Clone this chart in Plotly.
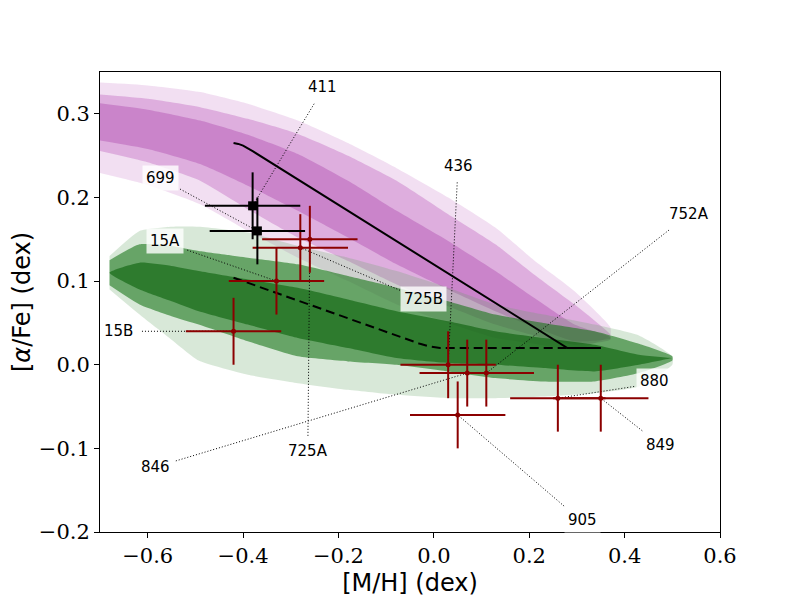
import plotly.graph_objects as go

# ---------------- data ----------------
# samples with uncertainties
red_names = ["725A", "725B", "15A", "15B", "436", "846", "752A", "905", "880", "849"]
red_mh = [-0.26, -0.28, -0.33, -0.42, 0.03, 0.07, 0.11, 0.05, 0.26, 0.35]
red_afe = [0.15, 0.14, 0.10, 0.04, 0.00, -0.01, -0.01, -0.06, -0.04, -0.04]
red_mh_err = [0.10, 0.10, 0.10, 0.10, 0.10, 0.10, 0.10, 0.10, 0.10, 0.10]
red_afe_err = [0.04, 0.04, 0.04, 0.04, 0.04, 0.04, 0.04, 0.04, 0.04, 0.04]

black_names = ["411", "699"]
black_mh = [-0.38, -0.37]
black_afe = [0.19, 0.16]
black_mh_err = [0.10, 0.10]
black_afe_err = [0.04, 0.04]

# model tracks
solid_mh = [-0.42, -0.41, -0.40, -0.39, -0.379, 0.28, 0.35]
solid_afe = [0.265, 0.264, 0.262, 0.259, 0.255, 0.02, 0.02]
dashed_mh = [-0.42, -0.113, -0.06, -0.029, -0.01, 0.013, 0.35]
dashed_afe = [0.104, 0.042, 0.031, 0.025, 0.022, 0.020, 0.020]

# magenta population envelopes
mag_x = [-0.72, -0.60, -0.49, -0.39, -0.285, -0.18, -0.078, 0.03, 0.129, 0.21, 0.295, 0.37]
mag_sparse_hi = [0.338, 0.334, 0.326, 0.312, 0.292, 0.265, 0.235, 0.200, 0.164, 0.125, 0.088, 0.045]
mag_sparse_lo = [0.232, 0.215, 0.192, 0.160, 0.128, 0.100, 0.072, 0.050, 0.032, 0.025, 0.018, 0.035]
mag_dense_hi = [0.324, 0.318, 0.308, 0.294, 0.276, 0.250, 0.220, 0.180, 0.144, 0.108, 0.072, 0.036]
mag_dense_lo = [0.258, 0.242, 0.220, 0.186, 0.152, 0.124, 0.096, 0.070, 0.048, 0.035, 0.024, 0.030]
mag_core_hi = [0.314, 0.305, 0.292, 0.275, 0.252, 0.220, 0.184, 0.148, 0.112, 0.080, 0.048, 0.033]
mag_core_lo = [0.270, 0.258, 0.240, 0.214, 0.184, 0.152, 0.120, 0.090, 0.064, 0.045, 0.028, 0.031]

# green population envelopes
grn_x = [-0.68, -0.617, -0.55, -0.493, -0.39, -0.285, -0.18, -0.078, 0.03, 0.129, 0.23, 0.337, 0.43, 0.50]
grn_sparse_hi = [0.130, 0.160, 0.165, 0.165, 0.158, 0.142, 0.128, 0.112, 0.092, 0.072, 0.060, 0.048, 0.035, 0.010]
grn_sparse_lo = [0.090, 0.060, 0.030, 0.005, -0.012, -0.022, -0.030, -0.036, -0.040, -0.040, -0.038, -0.034, -0.026, 0.000]
grn_dense_hi = [0.125, 0.144, 0.142, 0.136, 0.128, 0.120, 0.106, 0.092, 0.076, 0.060, 0.050, 0.040, 0.025, 0.010]
grn_dense_lo = [0.095, 0.072, 0.058, 0.048, 0.028, 0.010, 0.004, 0.000, -0.008, -0.016, -0.020, -0.020, -0.010, 0.005]
grn_core_hi = [0.110, 0.122, 0.118, 0.112, 0.102, 0.092, 0.078, 0.064, 0.052, 0.040, 0.032, 0.024, 0.012, 0.008]
grn_core_lo = [0.110, 0.090, 0.076, 0.064, 0.048, 0.032, 0.020, 0.008, 0.002, 0.000, -0.004, -0.008, 0.000, 0.008]

x_ticks = [-0.6, -0.4, -0.2, 0.0, 0.2, 0.4, 0.6]
y_ticks = [-0.2, -0.1, 0.0, 0.1, 0.2, 0.3]

# ---------------- label layout (text centre, connector start) ----------------
label_pos = {
    "411": (-0.234, 0.332, -0.251, 0.312),
    "699": (-0.574, 0.223, -0.532, 0.210),
    "15A": (-0.563, 0.148, -0.517, 0.137),
    "15B": (-0.662, 0.040, -0.612, 0.040),
    "725A": (-0.264, -0.103, -0.264, -0.085),
    "725B": (-0.021, 0.078, -0.071, 0.089),
    "436": (0.051, 0.238, 0.049, 0.218),
    "752A": (0.535, 0.180, 0.493, 0.161),
    "846": (-0.584, -0.122, -0.541, -0.115),
    "880": (0.462, -0.019, 0.420, -0.026),
    "849": (0.475, -0.096, 0.437, -0.079),
    "905": (0.311, -0.186, 0.273, -0.169),
}

fig = go.Figure()


def band(xs, hi, lo, color):
    fig.add_trace(go.Scatter(
        x=list(xs) + list(xs)[::-1], y=list(hi) + list(lo)[::-1],
        fill="toself", fillcolor=color, mode="lines",
        line=dict(width=0, shape="spline", smoothing=0.5),
        hoverinfo="skip", showlegend=False))


band(mag_x, mag_sparse_hi, mag_sparse_lo, "rgba(205,130,205,0.26)")
band(mag_x, mag_dense_hi, mag_dense_lo, "rgba(185,90,185,0.36)")
band(mag_x, mag_core_hi, mag_core_lo, "rgba(160,50,160,0.33)")
band(grn_x, grn_sparse_hi, grn_sparse_lo, "rgba(100,165,100,0.25)")
band(grn_x, grn_dense_hi, grn_dense_lo, "rgba(20,115,20,0.58)")
band(grn_x, grn_core_hi, grn_core_lo, "rgba(0,90,0,0.55)")

# model tracks
fig.add_trace(go.Scatter(x=solid_mh, y=solid_afe, mode="lines",
                         line=dict(color="black", width=2),
                         showlegend=False, hoverinfo="skip"))
fig.add_trace(go.Scatter(x=dashed_mh, y=dashed_afe, mode="lines",
                         line=dict(color="black", width=2, dash="9px,5px"),
                         showlegend=False, hoverinfo="skip"))

# connectors
all_names = red_names + black_names
all_mh = red_mh + black_mh
all_afe = red_afe + black_afe
for name, px, py in zip(all_names, all_mh, all_afe):
    tx, ty, sx, sy = label_pos[name]
    fig.add_trace(go.Scatter(x=[sx, px], y=[sy, py], mode="lines",
                             line=dict(color="black", width=1, dash="1px,2px"),
                             showlegend=False, hoverinfo="skip"))

# measurements
fig.add_trace(go.Scatter(
    x=red_mh, y=red_afe, mode="markers",
    marker=dict(color="#8b0000", size=5),
    error_x=dict(type="data", array=red_mh_err, color="#8b0000", thickness=2, width=0),
    error_y=dict(type="data", array=red_afe_err, color="#8b0000", thickness=2, width=0),
    showlegend=False))
fig.add_trace(go.Scatter(
    x=black_mh, y=black_afe, mode="markers",
    marker=dict(color="black", size=9, symbol="square"),
    error_x=dict(type="data", array=black_mh_err, color="black", thickness=2, width=0),
    error_y=dict(type="data", array=black_afe_err, color="black", thickness=2, width=0),
    showlegend=False))

for name in all_names:
    tx, ty, sx, sy = label_pos[name]
    fig.add_annotation(x=tx, y=ty, text=name, showarrow=False,
                       xanchor="center", yanchor="middle",
                       font=dict(family="DejaVu Sans", size=15, color="black"),
                       bgcolor="rgba(255,255,255,0.8)", borderpad=3)

axis_common = dict(showgrid=False, zeroline=False, showline=True, linecolor="black",
                   linewidth=1, mirror=True, ticks="outside", ticklen=5, tickwidth=1,
                   tickcolor="black", automargin=False,
                   tickfont=dict(family="DejaVu Serif", size=21, color="black"))

# page body has an 8px default margin: figure is 792x592 so it fills the window
fig.update_layout(
    width=792, height=592,
    paper_bgcolor="white", plot_bgcolor="white",
    margin=dict(l=92, r=80, t=64, b=68, autoexpand=False),
    xaxis=dict(range=[-0.7, 0.6], tickvals=x_ticks, tickformat=".1f",
               title=dict(text="[M/H] (dex)", standoff=6,
                          font=dict(family="DejaVu Sans", size=24, color="black")),
               **axis_common),
    yaxis=dict(range=[-0.2, 0.35], tickvals=y_ticks, tickformat=".1f",
               title=dict(text="[<i>α</i>/Fe] (dex)", standoff=4,
                          font=dict(family="DejaVu Sans", size=24, color="black")),
               **axis_common),
)

fig.write_html("out.html")
